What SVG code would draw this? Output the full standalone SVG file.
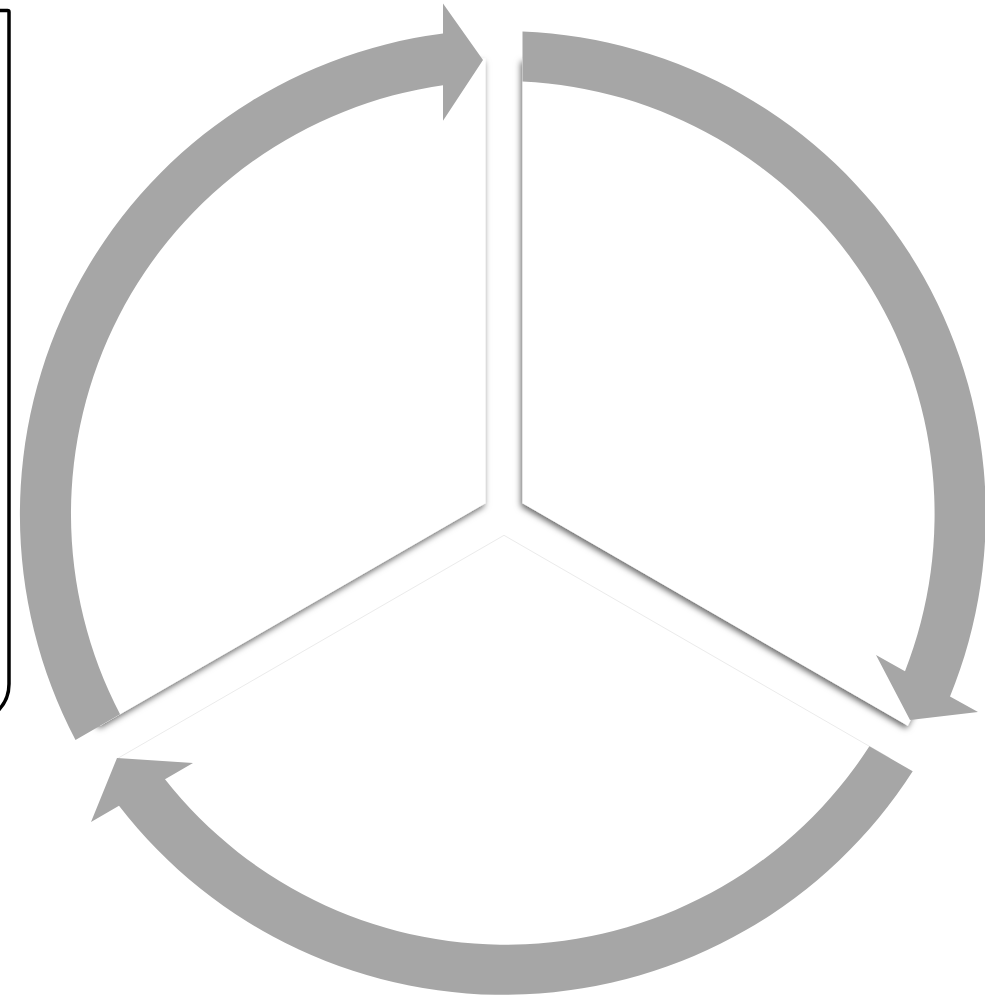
<svg xmlns="http://www.w3.org/2000/svg" width="985" height="1007" viewBox="0 0 985 1007">
  <defs>
    <filter id="shadow" x="-10%" y="-10%" width="120%" height="120%">
      <feDropShadow dx="-1.5" dy="3" stdDeviation="3" flood-color="#000" flood-opacity="0.6"/>
    </filter>
    <style>
      .wedge { fill: #ffffff; }
      .wedge-top { filter: url(#shadow); }
      .wedge-bottom { stroke: #ebebeb; stroke-width: 1; }
      .arrow { fill: #a6a6a6; stroke: none; }
      .frame { fill: none; stroke: #000; stroke-width: 3.5; }
    </style>
  </defs>
  <rect width="985" height="1007" fill="#ffffff"/>

  <g id="frame">
    <path class="frame" d="M -10 10.5 H 7.5 Q 9 10.5 9 12 V 684 A 38 38 0 0 1 -29 722"/>
  </g>

  <g id="wedge-bottom">
    <path class="wedge wedge-bottom" d="M 504 535.3 L 889.3 757.8 A 456 456 0 0 1 118.7 757.8 Z"/>
  </g>
  <g id="wedge-top-left">
    <path class="wedge wedge-top" d="M 485.5 503.3 V 58.4 A 456 456 0 0 0 100.2 725.8 Z"/>
  </g>
  <g id="wedge-top-right">
    <path class="wedge wedge-top" d="M 522.5 503.3 V 58.4 A 456 456 0 0 1 907.8 725.8 Z"/>
  </g>

  <g id="connectors">
    <path id="arrow-left" class="arrow" d="M 75.5 740 A 485 485 0 0 1 443 33.5 L 443 3.6 L 483 60 L 443 120.7 L 443 85.3 A 433 433 0 0 0 120.1 714.3 Z"/>
    <path id="arrow-right" class="arrow" d="M 522.5 31.4 A 483 483 0 0 1 950 696.4 L 978 712 L 910 720 L 876 655 L 905 671.2 A 433 433 0 0 0 522.5 81.4 Z"/>
    <path id="arrow-bottom" class="arrow" d="M 912.7 771.3 A 486 486 0 0 1 119 805.8 L 91 822 L 117 758 L 193 763 L 165 779.2 A 433 433 0 0 0 869.4 746.3 Z"/>
  </g>
</svg>
